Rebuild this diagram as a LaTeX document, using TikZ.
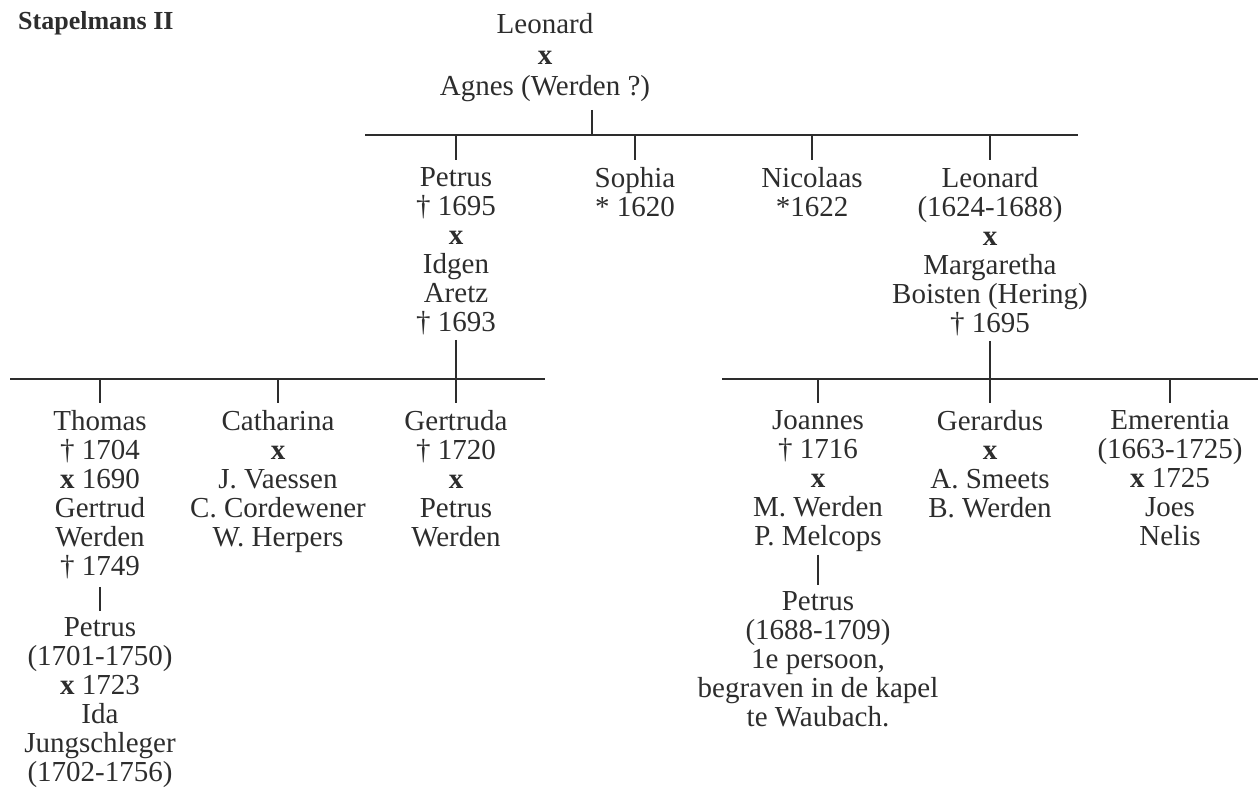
\documentclass[tikz,border=0pt]{standalone}
\usepackage{fontspec}
\setmainfont{Liberation Serif}
\definecolor{ink}{RGB}{45,45,45}
\newcommand{\mx}{\textbf{x}}
\begin{document}
\begin{tikzpicture}[
   x=1pt,y=-1pt,
   font=\fontsize{29}{29}\selectfont,
   person/.style={align=center,inner sep=0pt,anchor=north,text=ink},
   bar/.style={draw=ink,line width=1.4pt},
   drop/.style={draw=ink,line width=1.1pt}]
\useasboundingbox (0,0) rectangle (1258,797);
\node[anchor=west,inner sep=0pt,text=ink,font=\fontsize{26}{29}\selectfont\bfseries] (title) at (18,23) {Stapelmans II};
\node[person,font=\fontsize{29}{31}\selectfont] (ouders) at (545,13) {Leonard\\\mx\\Agnes (Werden ?)};
\node[person] (petrus) at (456,167) {Petrus\\† 1695\\\mx\\Idgen\\Aretz\\† 1693};
\node[person] (sophia) at (635,167) {Sophia\\* 1620};
\node[person] (nicolaas) at (812,167) {Nicolaas\\*1622};
\node[person] (leonard) at (990,167) {Leonard\\(1624-1688)\\\mx\\Margaretha\\Boisten (Hering)\\† 1695};
\node[person] (thomas) at (100,410) {Thomas\\† 1704\\\mx{} 1690\\Gertrud\\Werden\\† 1749};
\node[person] (catharina) at (278,410) {Catharina\\\mx\\J. Vaessen\\C. Cordewener\\W. Herpers};
\node[person] (gertruda) at (456,410) {Gertruda\\† 1720\\\mx\\Petrus\\Werden};
\node[person] (joannes) at (818,410) {Joannes\\† 1716\\\mx\\M. Werden\\P. Melcops};
\node[person] (gerardus) at (990,410) {Gerardus\\\mx\\A. Smeets\\B. Werden};
\node[person] (emerentia) at (1170,410) {Emerentia\\(1663-1725)\\\mx{} 1725\\Joes\\Nelis};
\node[person] (petrusT) at (100,617) {Petrus\\(1701-1750)\\\mx{} 1723\\Ida\\Jungschleger\\(1702-1756)};
\node[person] (petrusJ) at (818,591) {Petrus\\(1688-1709)\\1e persoon,\\begraven in de kapel\\te Waubach.};
\coordinate (kop) at (592,135);
\coordinate (bar1L) at (365,135);
\coordinate (bar1R) at (1078,135);
\coordinate (bar2L) at (10,379);
\coordinate (bar2R) at (545,379);
\coordinate (bar3L) at (722,379);
\coordinate (bar3R) at (1258,379);
\draw[bar] (bar1L) -- (bar1R);
\draw[bar] (bar2L) -- (bar2R);
\draw[bar] (bar3L) -- (bar3R);
\draw[drop,shorten <=8pt] (ouders.south -| kop) -- (kop);
\draw[drop,shorten >=7pt] (petrus.north |- bar1L) -- (petrus.north);
\draw[drop,shorten >=7pt] (sophia.north |- bar1L) -- (sophia.north);
\draw[drop,shorten >=7pt] (nicolaas.north |- bar1L) -- (nicolaas.north);
\draw[drop,shorten >=7pt] (leonard.north |- bar1L) -- (leonard.north);
\draw[drop,shorten <=5pt,shorten >=7pt] (petrus.south) -- (gertruda.north);
\draw[drop,shorten <=5pt,shorten >=7pt] (leonard.south) -- (gerardus.north);
\draw[drop,shorten >=7pt] (thomas.north |- bar2L) -- (thomas.north);
\draw[drop,shorten >=7pt] (catharina.north |- bar2L) -- (catharina.north);
\draw[drop,shorten >=7pt] (joannes.north |- bar3L) -- (joannes.north);
\draw[drop,shorten >=7pt] (emerentia.north |- bar3L) -- (emerentia.north);
\draw[drop,shorten <=8pt,shorten >=6pt] (thomas.south) -- (petrusT.north);
\draw[drop,shorten <=3pt,shorten >=6pt] (joannes.south) -- (petrusJ.north);
\end{tikzpicture}
\end{document}
